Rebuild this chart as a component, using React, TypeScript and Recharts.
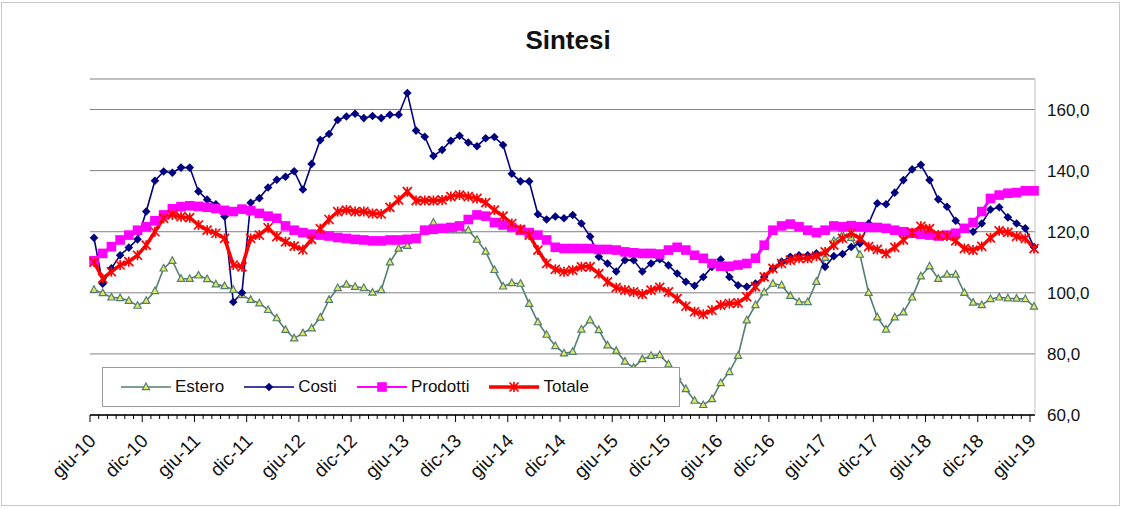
import { CartesianGrid, Legend, Line, LineChart, ReferenceLine, XAxis, YAxis } from "recharts";

const MESI = ["gen", "feb", "mar", "apr", "mag", "giu", "lug", "ago", "set", "ott", "nov", "dic"];

// monthly categories, giu-10 .. giu-19
const categories: string[] = [];
for (let k = 0; k < 109; k++) {
  categories.push(`${MESI[(5 + k) % 12]}-${10 + Math.floor((5 + k) / 12)}`);
}

const yTicks = [60, 80, 100, 120, 140, 160];

const estero = [
  101, 99.9, 98.5, 98.3, 97.4, 95.8, 97.4, 100.6, 108, 110.5, 104.6, 104.6, 105.7, 104.5, 102.8, 102.2, 101, 99.3,
  97.7, 96.6, 94.4, 91.7, 87.9, 85.1, 86.8, 88.4, 91.9, 97.7, 101.6, 102.7, 102, 101.6, 100.1, 100.9, 110, 114.5,
  115.4, 117.8, 120.5, 123, 121, 120.5, 120.5, 120.5, 117.4, 113.5, 107.5, 102.1, 103.2, 103, 96.4, 90.4, 86.3, 82.6,
  80.2, 80.7, 88, 91, 87.8, 82.8, 81, 77.5, 75.5, 78.3, 79.4, 79.6, 76.6, 72.5, 68.5, 64.7, 63.3, 65.2, 70.5, 74.1,
  79.4, 91, 96, 100.2, 103, 102.5, 99, 97, 97, 103.6, 111.5, 117, 119, 118, 112.5, 100, 92, 88, 92, 93.6, 98.5, 105.4,
  108.7, 104.6, 106, 106, 100, 96.8, 96, 98, 98.5, 98.2, 98.1, 98, 95.5,
];

const costi = [
  118, 103, 108, 112.3, 114.8, 117.5, 126.6, 136.7, 139.7, 139.3, 141, 141, 133.2, 130.5, 129, 125, 97, 100, 129.5,
  131, 134.5, 137, 138, 139.8, 133.8, 142.2, 150, 152, 156.6, 157.7, 158.6, 157.2, 157.9, 157.2, 158.3, 158.3, 165.4,
  153.1, 151.1, 144.8, 146.8, 149.8, 151.4, 149.2, 148, 150.6, 151, 148.4, 139, 136.5, 136.5, 125.7, 124, 125, 124.4,
  125.5, 122.7, 118.4, 111.8, 109.6, 107, 110.7, 110.7, 107, 109.6, 111, 109, 106.3, 103.6, 102.3, 105.2, 108.5, 110.9,
  105.2, 102.5, 102, 103, 105.2, 108, 110.2, 111.8, 112.3, 112.3, 112.9, 108.5, 112, 112.7, 115, 116.2, 122.7, 129.3,
  129, 132.8, 136.9, 140.4, 141.9, 136.9, 130.6, 128.2, 123.6, 121, 120, 122.7, 127.3, 128, 124.7, 122.7, 121.1, 115,
];

const prodotti = [
  110.5, 112.9, 115.1, 117.3, 118.9, 120.5, 121.6, 123.6, 125.5, 127.5, 128.2, 128.5, 128.3, 128, 127.6, 127, 126.6,
  127.4, 126.9, 126, 125.1, 124.4, 121.9, 120.5, 119.7, 119.2, 118.9, 118.6, 118.1, 117.8, 117.5, 117.3, 117, 117,
  117.3, 117.3, 117.5, 117.8, 120.5, 120.8, 121.1, 121.4, 121.9, 124, 125.5, 125.1, 123, 122.2, 121.4, 120.5, 119.7,
  118.9, 117.3, 114.9, 114.5, 114.5, 114.5, 114.5, 114.2, 114.2, 114, 113.4, 113.1, 112.9, 112.9, 112.7, 114, 114.9,
  114, 112.3, 111.3, 109.6, 108.7, 108.7, 109.1, 109.6, 111.3, 115.6, 120.5, 121.9, 122.5, 121.6, 120.5, 119.7, 120.5,
  121.9, 121.6, 122, 121.6, 121.4, 121.4, 121.1, 120.5, 120, 119.5, 119.2, 118.9, 118.6, 118.9, 119.5, 121.1, 123,
  126.6, 130.9, 132, 132.6, 132.8, 133.4, 133.4,
];

const totale = [
  110, 104.7, 106.9, 109.1, 110.2, 112.3, 115.6, 120, 124.4, 125.5, 124.9, 124.6, 122.2, 120.5, 119.5, 117.8, 109.1,
  108.5, 117.8, 118.9, 121.3, 118.4, 116.7, 115.3, 114.1, 117.5, 121, 124, 126.6, 127.1, 126.6, 126.6, 126, 125.8, 128,
  130.4, 133.1, 130.2, 130.2, 130.2, 130.4, 131.5, 132, 131.5, 130.9, 129.5, 127.1, 125.1, 122.7, 120.8, 118.9, 114,
  109.6, 107.7, 106.9, 107.4, 108.5, 108.5, 106.3, 103.6, 101.7, 100.9, 100.3, 99.6, 100.9, 101.8, 100.3, 98.1, 95.6,
  93.8, 93, 94.3, 96, 96.5, 96.7, 98.7, 102, 105.2, 108, 109.6, 110.7, 111.3, 111.3, 112, 113.4, 115.6, 117.8, 119.5,
  117.8, 115.1, 114.2, 112.9, 114.9, 117.3, 119.7, 121.8, 121, 118.9, 118.6, 117, 114.5, 114, 115.2, 118, 120.3, 119.8,
  118.5, 117.8, 114.5,
];

const data = categories.map((mese, i) => ({
  mese,
  Estero: estero[i],
  Costi: costi[i],
  Prodotti: prodotti[i],
  Totale: totale[i],
}));

const FONT = '"Liberation Sans", Arial, sans-serif';
const C_ESTERO = "#527F72";
const C_COSTI = "#000080";
const C_PRODOTTI = "#FF00FF";
const C_TOTALE = "#FF0000";

const Triangle = ({ cx, cy }: { cx: number; cy: number }) => (
  <path d={`M${cx},${cy - 4}L${cx + 3.6},${cy + 2.6}L${cx - 3.6},${cy + 2.6}Z`} fill="#E8E860" stroke={C_ESTERO} strokeWidth={1.2} />
);
const Diamond = ({ cx, cy }: { cx: number; cy: number }) => (
  <path d={`M${cx},${cy - 4.3}L${cx + 4.3},${cy}L${cx},${cy + 4.3}L${cx - 4.3},${cy}Z`} fill={C_COSTI} />
);
const Square = ({ cx, cy }: { cx: number; cy: number }) => (
  <rect x={cx - 4.8} y={cy - 4.8} width={9.6} height={9.6} fill={C_PRODOTTI} />
);
const Star = ({ cx, cy }: { cx: number; cy: number }) => (
  <path
    d={`M${cx - 4.5},${cy - 4.5}L${cx + 4.5},${cy + 4.5}M${cx + 4.5},${cy - 4.5}L${cx - 4.5},${cy + 4.5}M${cx},${cy - 5}L${cx},${cy + 5}`}
    stroke={C_TOTALE}
    strokeWidth={1.7}
  />
);

const MonthTick = (props: any) => {
  const { x, y, payload } = props;
  const i = categories.indexOf(payload.value);
  const tx = x - 4;
  const major = i % 6 === 0;
  const ax = tx + 7;
  const ay = y + 27;
  return (
    <g>
      <line x1={tx} y1={y} x2={tx} y2={y + (major ? 7 : 4)} stroke="#000" strokeWidth={1} />
      {major && (
        <text x={ax} y={ay} transform={`rotate(-45, ${ax}, ${ay})`} textAnchor="end" fontSize={19} fill="#111" fontFamily={FONT}>
          {payload.value}
        </text>
      )}
    </g>
  );
};

const legendItems = [
  { name: "Estero", color: C_ESTERO, width: 1.5, marker: Triangle },
  { name: "Costi", color: C_COSTI, width: 1.5, marker: Diamond },
  { name: "Prodotti", color: C_PRODOTTI, width: 2, marker: Square },
  { name: "Totale", color: C_TOTALE, width: 3.5, marker: Star },
];

const LegendBox = () => (
  <div
    style={{
      width: 578,
      height: 40,
      boxSizing: "border-box",
      border: "1px solid #9a9a9a",
      background: "#fff",
      display: "flex",
      alignItems: "center",
      paddingLeft: 18,
      fontFamily: FONT,
      fontSize: 17,
      color: "#111",
    }}
  >
    {legendItems.map((it) => {
      const M = it.marker;
      return (
        <div key={it.name} style={{ display: "flex", alignItems: "center", marginRight: 20 }}>
          <svg width={50} height={12} style={{ marginRight: 4 }}>
            <line x1={0} y1={6} x2={50} y2={6} stroke={it.color} strokeWidth={it.width} />
            <M cx={25} cy={6} />
          </svg>
          <span>{it.name}</span>
        </div>
      );
    })}
  </div>
);

const App = () => {
  return (
    <div style={{ position: "absolute", left: 0, top: 0, width: 1123, height: 509, background: "#fff" }}>
      <div
        style={{
          position: "absolute",
          left: 1,
          top: 2,
          width: 1119,
          height: 504,
          border: "1px solid #c8c8c8",
          boxSizing: "border-box",
        }}
      />
      <div
        style={{
          position: "absolute",
          left: 468,
          top: 25,
          width: 200,
          textAlign: "center",
          fontFamily: FONT,
          fontWeight: 700,
          fontSize: 26,
          color: "#111",
        }}
      >
        Sintesi
      </div>
      <LineChart width={1123} height={509} data={data} margin={{ top: 79, right: 3, bottom: 14, left: 90 }}>
        <CartesianGrid vertical={false} stroke="#808080" yAxisId="right" />
        <XAxis
          dataKey="mese"
          interval={0}
          height={80}
          tickLine={false}
          tickSize={0}
          tickMargin={0}
          axisLine={{ stroke: "#000", strokeWidth: 1.5 }}
          tick={<MonthTick />}
          padding={{ left: 4, right: 1 }}
        />
        <YAxis
          yAxisId="left"
          orientation="left"
          width={0}
          domain={[60, 170]}
          ticks={yTicks}
          tick={false}
          tickLine={false}
          axisLine={{ stroke: "#000", strokeWidth: 1.5 }}
        />
        <YAxis
          yAxisId="right"
          orientation="right"
          width={85}
          domain={[60, 170]}
          ticks={yTicks}
          tickLine={false}
          tickSize={0}
          tickMargin={12}
          axisLine={{ stroke: "#c0c0c0" }}
          tick={{ fontSize: 17, fill: "#111", fontFamily: FONT }}
          tickFormatter={(v: number) => v.toFixed(1).replace(".", ",")}
        />
        <ReferenceLine yAxisId="right" y={170} stroke="#c0c0c0" />
        <Legend
          layout="horizontal"
          verticalAlign="middle"
          align="center"
          content={() => <LegendBox />}
          wrapperStyle={{ left: 102, top: 367, width: 578, height: 40 }}
        />
        <Line
          yAxisId="right"
          dataKey="Estero"
          type="linear"
          stroke={C_ESTERO}
          strokeWidth={1.6}
          isAnimationActive={false}
          activeDot={false}
          dot={(p: any) => <Triangle key={`e${p.index}`} cx={p.cx} cy={p.cy} />}
        />
        <Line
          yAxisId="right"
          dataKey="Costi"
          type="linear"
          stroke={C_COSTI}
          strokeWidth={1.6}
          isAnimationActive={false}
          activeDot={false}
          dot={(p: any) => <Diamond key={`c${p.index}`} cx={p.cx} cy={p.cy} />}
        />
        <Line
          yAxisId="right"
          dataKey="Prodotti"
          type="linear"
          stroke={C_PRODOTTI}
          strokeWidth={3}
          isAnimationActive={false}
          activeDot={false}
          dot={(p: any) => <Square key={`p${p.index}`} cx={p.cx} cy={p.cy} />}
        />
        <Line
          yAxisId="right"
          dataKey="Totale"
          type="linear"
          stroke={C_TOTALE}
          strokeWidth={3.5}
          isAnimationActive={false}
          activeDot={false}
          dot={(p: any) => <Star key={`t${p.index}`} cx={p.cx} cy={p.cy} />}
        />
      </LineChart>
    </div>
  );
};

export default App;
